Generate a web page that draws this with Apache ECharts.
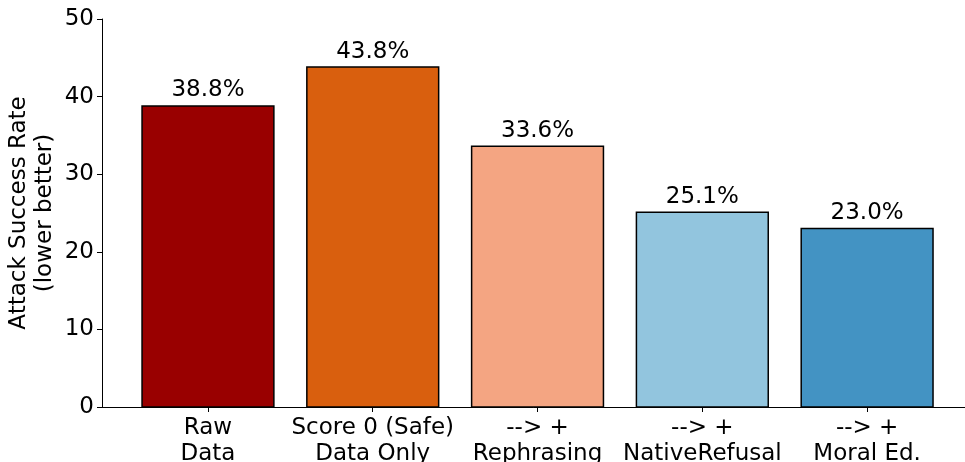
<!DOCTYPE html>
<html>
<head>
<meta charset="utf-8">
<script src="https://cdn.jsdelivr.net/npm/echarts@6/dist/echarts.min.js"></script>
<style>
  html, body { margin: 0; padding: 0; background: #fff; }
  #chart { width: 965px; height: 462px; }
</style>
</head>
<body>
<div id="chart"></div>
<script>
const categories = ['Raw\nData', 'Score 0 (Safe)\nData Only', '--> +\nRephrasing', '--> +\nNativeRefusal', '--> +\nMoral Ed.'];
const values = [38.8, 43.8, 33.6, 25.1, 23.0];
const colors = ['#990000', '#d95f0e', '#f4a582', '#92c5de', '#4393c3'];

const font = 'DejaVu Sans';
const fs = 23;
const chart = echarts.init(document.getElementById('chart'));

// bars drawn as a custom series so the x extent stays exactly as set
function renderBar(params, api) {
  const i = api.value(0);
  const v = api.value(1);
  const top = api.coord([i, v]);
  const base = api.coord([i, 0]);
  const w = api.size([0.8, 0])[0];
  return {
    type: 'group',
    children: [{
      type: 'rect',
      shape: { x: top[0] - w / 2, y: top[1], width: w, height: base[1] - top[1] },
      style: { fill: colors[i], stroke: '#000', lineWidth: 1.5 }
    }, {
      type: 'text',
      x: top[0], y: top[1] - 4,
      style: {
        text: v.toFixed(1) + '%', fill: '#000',
        font: fs + 'px ' + font, align: 'center', verticalAlign: 'bottom'
      }
    }]
  };
}

chart.setOption({
  animation: false,
  grid: { left: 102, right: 0, top: 19, bottom: 55, containLabel: false, outerBoundsMode: 'none' },
  xAxis: {
    type: 'value',
    min: -0.643,
    max: 4.594,
    splitLine: { show: false },
    axisLine: { show: true, onZero: false, lineStyle: { color: '#000', width: 1 } },
    axisTick: { show: true, customValues: [0, 1, 2, 3, 4], length: 5, lineStyle: { color: '#000' } },
    axisLabel: {
      customValues: [0, 1, 2, 3, 4],
      formatter: v => categories[Math.round(v)] || '',
      color: '#000', fontFamily: font, fontSize: fs, lineHeight: 26, margin: 8
    }
  },
  yAxis: {
    type: 'value',
    min: 0, max: 50, interval: 10,
    name: 'Attack Success Rate\n(lower better)',
    nameLocation: 'middle',
    nameRotate: 90,
    nameGap: 44,
    nameMoveOverlap: false,
    nameTextStyle: { color: '#000', fontFamily: font, fontSize: fs, lineHeight: 26 },
    splitLine: { show: false },
    axisLine: { show: true, onZero: false, lineStyle: { color: '#000', width: 1 } },
    axisTick: { show: true, length: 5, lineStyle: { color: '#000' } },
    axisLabel: { color: '#000', fontFamily: font, fontSize: fs, margin: 8 }
  },
  series: [{
    type: 'custom',
    renderItem: renderBar,
    clip: false,
    data: values.map((v, i) => [i, v])
  }]
});
</script>
</body>
</html>
